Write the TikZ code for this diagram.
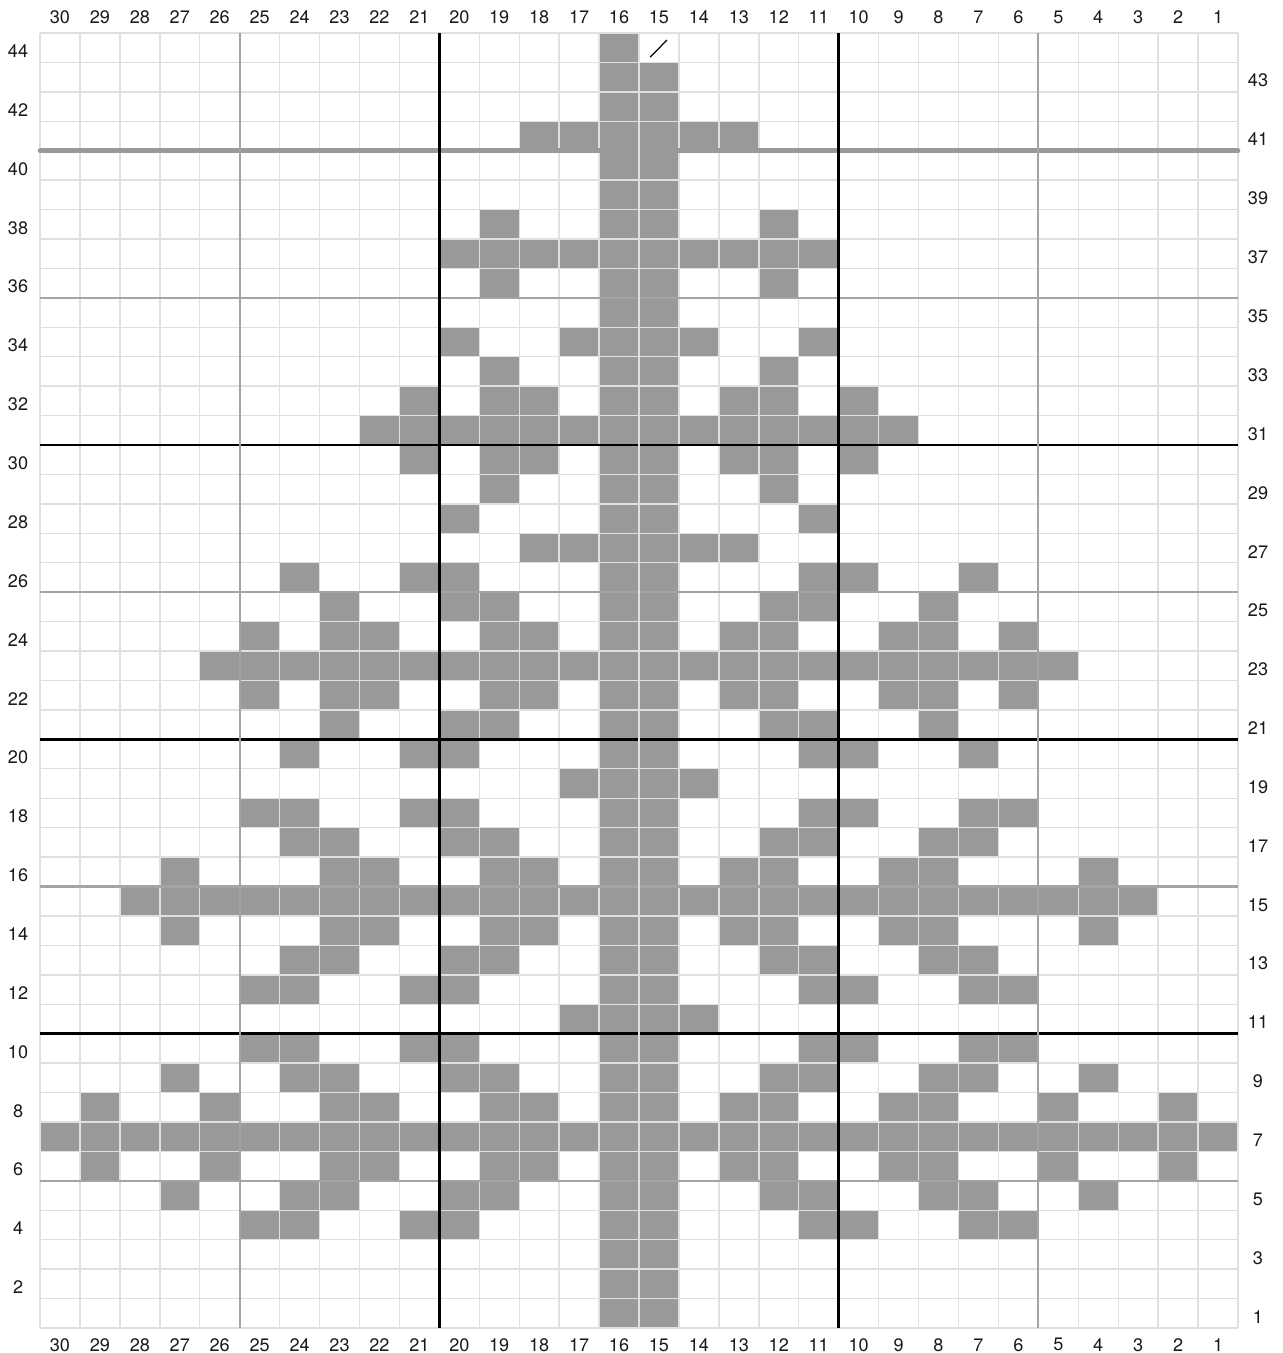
\documentclass[tikz,border=0pt]{standalone}
\usepackage{fontspec}
\setmainfont{TeX Gyre Heros}
\definecolor{stitchgray}{RGB}{153,153,153}
\definecolor{gridlight}{RGB}{224,224,224}
\definecolor{majorgray}{RGB}{164,164,164}
\usetikzlibrary{positioning}

\begin{document}
\begin{tikzpicture}[x=0.79867cm, y=0.58864cm,
  stitch/.style={fill=stitchgray},
  gridline/.style={draw=gridlight, line width=0.8pt},
  graymajor/.style={draw=majorgray, line width=1.2pt},
  grayheavy/.style={draw=stitchgray, line width=2.6pt, line cap=round},
  blackmajor/.style={draw=black, line width=1.5pt},
  numlbl/.style={font=\fontsize{10.3}{12}\selectfont, inner sep=0pt, text=black!90}
]
\useasboundingbox (-1.0017,-0.849) rectangle (31.102,45.121);

% filled stitches, row/columns
\foreach \r/\cs in {44/{16}, 43/{16,15}, 42/{16,15}, 41/{18,17,16,15,14,13},
  40/{16,15}, 39/{16,15}, 38/{19,16,15,12}, 37/{20,...,11}, 36/{19,16,15,12},
  35/{16,15}, 34/{20,17,16,15,14,11}, 33/{19,16,15,12},
  32/{21,19,18,16,15,13,12,10}, 31/{22,...,9}, 30/{21,19,18,16,15,13,12,10},
  29/{19,16,15,12}, 28/{20,16,15,11}, 27/{18,17,16,15,14,13},
  26/{24,21,20,16,15,11,10,7}, 25/{23,20,19,16,15,12,11,8},
  24/{25,23,22,19,18,16,15,13,12,9,8,6}, 23/{26,...,5},
  22/{25,23,22,19,18,16,15,13,12,9,8,6}, 21/{23,20,19,16,15,12,11,8},
  20/{24,21,20,16,15,11,10,7}, 19/{17,16,15,14},
  18/{25,24,21,20,16,15,11,10,7,6}, 17/{24,23,20,19,16,15,12,11,8,7},
  16/{27,23,22,19,18,16,15,13,12,9,8,4}, 15/{28,...,3},
  14/{27,23,22,19,18,16,15,13,12,9,8,4}, 13/{24,23,20,19,16,15,12,11,8,7},
  12/{25,24,21,20,16,15,11,10,7,6}, 11/{17,16,15,14},
  10/{25,24,21,20,16,15,11,10,7,6}, 9/{27,24,23,20,19,16,15,12,11,8,7,4},
  8/{29,26,23,22,19,18,16,15,13,12,9,8,5,2}, 7/{30,...,1},
  6/{29,26,23,22,19,18,16,15,13,12,9,8,5,2}, 5/{27,24,23,20,19,16,15,12,11,8,7,4},
  4/{25,24,21,20,16,15,11,10,7,6}, 3/{16,15}, 2/{16,15}, 1/{16,15}}
  \foreach \c in \cs
    \fill[stitch] ({30-\c},{\r-1}) rectangle ++(1,1);

% fine grid
\foreach \i in {0,...,30}
  \draw[gridline] (\i,0) -- (\i,44);
\foreach \j in {0,...,44}
  \draw[gridline] (0,\j) -- (30,\j);

% marker in row 44
\coordinate (slashA) at (15.28,43.18);
\coordinate (slashB) at (15.70,43.76);
\draw[black, line width=0.7pt] (slashA) -- (slashB);

% guide lines
\draw[grayheavy] (0,40) -- (30,40);
\foreach \j in {5,15,25,35}
  \draw[graymajor] (0,\j) -- (30,\j);
\foreach \j in {10,20,30}
  \draw[blackmajor] (0,\j) -- (30,\j);
\foreach \i in {5,25}
  \draw[graymajor] (\i,0) -- (\i,44);
\draw[gridline] (15,0) -- (15,44);
\foreach \i in {10,20}
  \draw[blackmajor] (\i,0) -- (\i,44);

% column numbers
\foreach \c in {1,...,30} {
  \node[numlbl] (coltop\c) at ({30-\c+0.5},44.54) {\c};
  \node[numlbl] (colbot\c) at ({30-\c+0.5},-0.57) {\c};
}
% row numbers
\foreach \r in {2,4,...,44}
  \node[numlbl] (rowleft\r) at (-0.55,{\r-0.62}) {\r};
\foreach \r in {1,3,...,43}
  \node[numlbl] (rowright\r) at (30.50,{\r-0.62}) {\r};

\end{tikzpicture}
\end{document}
